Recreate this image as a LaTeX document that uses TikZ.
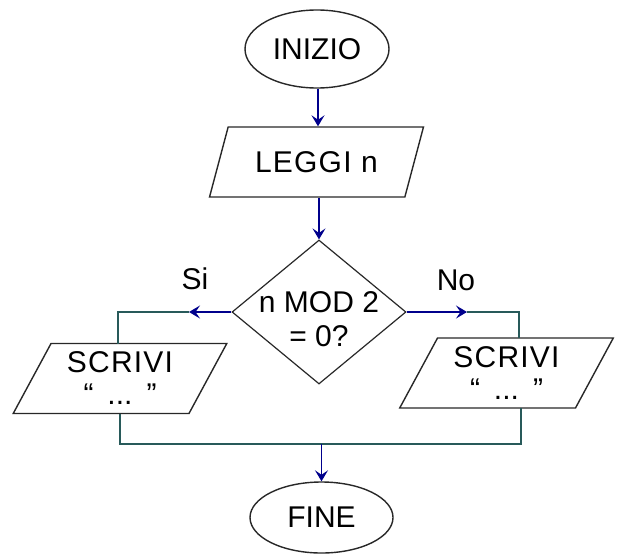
\documentclass[tikz,border=0pt]{standalone}
\usepackage{fontspec}
\setmainfont{Liberation Sans}
\usetikzlibrary{shapes.geometric,arrows.meta}
\definecolor{arrblue}{RGB}{0,0,140}
\definecolor{linkteal}{RGB}{40,90,90}
\definecolor{edgegray}{RGB}{40,40,40}
\newcommand{\wide}[1]{{\addfontfeature{LetterSpace=4}#1}}
\tikzset{
  every node/.style={font=\fontsize{30}{34}\selectfont, align=center, inner sep=2pt},
  terminal/.style={ellipse, draw=edgegray, line width=1.4pt, minimum width=144pt, minimum height=78pt},
  iobox/.style={trapezium, draw=edgegray, line width=1.4pt, trapezium left angle=62.1, trapezium right angle=117.9, trapezium stretches=true, minimum width=214pt, minimum height=70pt},
  decbox/.style={diamond, draw=edgegray, line width=1.2pt, minimum width=174pt, minimum height=144pt, inner sep=0pt},
  flow/.style={draw=arrblue, line width=1.4pt, -{Stealth[length=11pt,width=13pt,inset=4.5pt]}},
  link/.style={draw=linkteal, line width=1.6pt},
  lbl/.style={inner sep=0pt}
}
\begin{document}
\begin{tikzpicture}[x=1pt,y=-1pt]
\useasboundingbox[fill=white] (0,0) rectangle (617,557);
\node[terminal] (start) at (317,49) {INIZIO};
\node[iobox] (read) at (316.5,162) {\wide{LEGGI n}};
\node[decbox] (dec) at (319,312) {};
\node[lbl] (dectext) at (319,319) {n MOD 2\\= 0?};
\node[iobox] (out1) at (120,378.5) {\wide{SCRIVI}\\[-2pt]“\hspace{14pt}...\hspace{14pt}”};
\node[iobox] (out2) at (506.5,373) {\wide{SCRIVI}\\[-2pt]“\hspace{14pt}...\hspace{14pt}”};
\node[terminal, minimum width=143pt, minimum height=71pt] (stop) at (321.5,517.5) {FINE};
\node[lbl] (si) at (195,279) {Si};
\node[lbl] (no) at (456,280) {No};
\coordinate (siend) at (189,312);
\coordinate (noend) at (467,312);
\coordinate (s1top) at (118,343.5);
\coordinate (s2top) at (519,338);
\coordinate (s1bot) at (120,413.5);
\coordinate (s2bot) at (521,408);
\coordinate (join) at (321.5,444);
\draw[flow] ([xshift=1pt]start.south) -- ([xshift=1pt]start.south |- read.north);
\draw[flow] (dec.north |- read.south) -- (dec.north);
\draw[link] (siend) -| (s1top);
\draw[link] (noend) -| (s2top);
\draw[flow] (dec.west) -- (siend);
\draw[flow] (dec.east) -- (noend);
\draw[link] (s1bot) |- (join) -| (s2bot);
\draw[flow] (join) -- (stop.north);
\end{tikzpicture}
\end{document}
